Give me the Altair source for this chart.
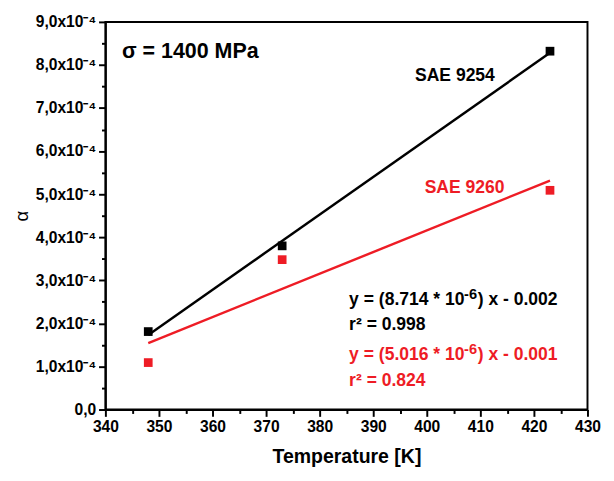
import altair as alt
import pandas as pd

# Data
temps = [348, 373, 423]
sae9254 = [1.81e-4, 3.80e-4, 8.32e-4]
sae9260 = [1.09e-4, 3.48e-4, 5.09e-4]

x_ticks = [340, 345, 350, 355, 360, 365, 370, 375, 380, 385, 390, 395, 400, 405, 410, 415, 420, 425, 430]
y_ticks = [0, 0.5e-4, 1e-4, 1.5e-4, 2e-4, 2.5e-4, 3e-4, 3.5e-4, 4e-4, 4.5e-4, 5e-4,
           5.5e-4, 6e-4, 6.5e-4, 7e-4, 7.5e-4, 8e-4, 8.5e-4, 9e-4]
y_tick_labels = ["0,0", "", "1,0x10⁻⁴", "", "2,0x10⁻⁴", "", "3,0x10⁻⁴", "", "4,0x10⁻⁴", "",
                 "5,0x10⁻⁴", "", "6,0x10⁻⁴", "", "7,0x10⁻⁴", "", "8,0x10⁻⁴", "", "9,0x10⁻⁴"]

BLACK = "#000000"
RED = "#ee1c25"
FONT = "Liberation Sans"

df = pd.DataFrame({
    "T": temps * 2,
    "alpha": sae9254 + sae9260,
    "steel": ["SAE 9254"] * 3 + ["SAE 9260"] * 3,
})

parts = []
for i, lab in enumerate(y_tick_labels):
    parts.append(f"round(datum.value*1e5)=={int(round(y_ticks[i]*1e5))} ? '{lab}'")
y_label_expr = " : ".join(parts) + " : ''"

x_scale = alt.Scale(domain=[340, 430], nice=False, zero=False)
y_scale = alt.Scale(domain=[0, 9e-4], nice=False)
color_scale = alt.Scale(domain=["SAE 9254", "SAE 9260"], range=[BLACK, RED])

x_axis = alt.Axis(
    title="Temperature [K]", values=x_ticks,
    labelExpr="datum.value % 10 == 0 ? datum.value : ''",
    tickSize={"condition": {"test": "datum.value % 10 != 0", "value": 4}, "value": 7},
    titlePadding=12, titleFontSize=20,
)
y_axis = alt.Axis(
    title="α", values=y_ticks, labelExpr=y_label_expr,
    tickSize={"condition": {"test": "round(datum.value*1e5) % 10 != 0", "value": 4}, "value": 7},
    titlePadding=4, titleFontWeight="normal", titleFontSize=19,
)

X = alt.X("T:Q", scale=x_scale, axis=x_axis)
Y = alt.Y("alpha:Q", scale=y_scale, axis=y_axis)

base = alt.Chart(df)

points = base.mark_square(size=80, opacity=1).encode(
    x=X, y=Y,
    color=alt.Color("steel:N", scale=color_scale, legend=None),
)

fits = base.transform_regression(
    "T", "alpha", groupby=["steel"], extent=[348, 423]
).mark_line(strokeWidth=2.5).encode(
    x=X, y=Y,
    color=alt.Color("steel:N", scale=color_scale, legend=None),
)

# Labels (data coordinates)
labels = pd.DataFrame({
    "T": [343.1, 397.8, 399.6, 385.5, 385.5],
    "alpha": [8.33e-4, 7.73e-4, 5.13e-4, 1.967e-4, 0.656e-4],
    "text": ["σ = 1400 MPa", "SAE 9254", "SAE 9260", "r² = 0.998", "r² = 0.824"],
    "col": [BLACK, BLACK, RED, BLACK, RED],
    "fs": [22, 18, 18, 18, 18],
})

# Fit equations split in three pieces so the exponent can be raised
eq = pd.DataFrame({
    "T": [385.5, 385.5],
    "alpha": [2.533e-4, 1.266e-4],
    "pre": ["y = (8.714 * 10", "y = (5.016 * 10"],
    "exp": ["-6", "-6"],
    "post": [") x - 0.002", ") x - 0.001"],
    "col": [BLACK, RED],
})

texts = alt.Chart(labels).mark_text(
    align="left", baseline="middle", font=FONT, fontWeight="bold"
).encode(
    x=X, y=Y,
    text="text:N",
    color=alt.Color("col:N", scale=None),
    size=alt.Size("fs:Q", scale=None),
)

eq_base = alt.Chart(eq)
eq_pre = eq_base.mark_text(align="left", baseline="middle", font=FONT, fontWeight="bold", fontSize=18).encode(
    x=X, y=Y, text="pre:N", color=alt.Color("col:N", scale=None))
eq_exp = eq_base.mark_text(align="left", baseline="middle", font=FONT, fontWeight="bold", fontSize=15,
                           dx=118, dy=-6).encode(
    x=X, y=Y, text="exp:N", color=alt.Color("col:N", scale=None))
eq_post = eq_base.mark_text(align="left", baseline="middle", font=FONT, fontWeight="bold", fontSize=18,
                            dx=132).encode(
    x=X, y=Y, text="post:N", color=alt.Color("col:N", scale=None))

chart = alt.layer(fits, points, texts, eq_pre, eq_exp, eq_post).properties(
    width=495, height=398,
    padding={"left": 5, "top": 0, "right": 5, "bottom": 5},
    background="white",
).configure_view(
    stroke="black", strokeWidth=2
).configure_axis(
    grid=False, domainColor="black", domainWidth=2, tickColor="black", tickWidth=2,
    labelFont=FONT, labelFontSize=16, labelFontWeight="bold", labelColor="black",
    titleFont=FONT, titleFontWeight="bold", titleColor="black",
    labelPadding=3, labelFlush=False, labelOverlap=False,
)

chart.save("out.html", embed_options={"renderer": "svg", "actions": False})
